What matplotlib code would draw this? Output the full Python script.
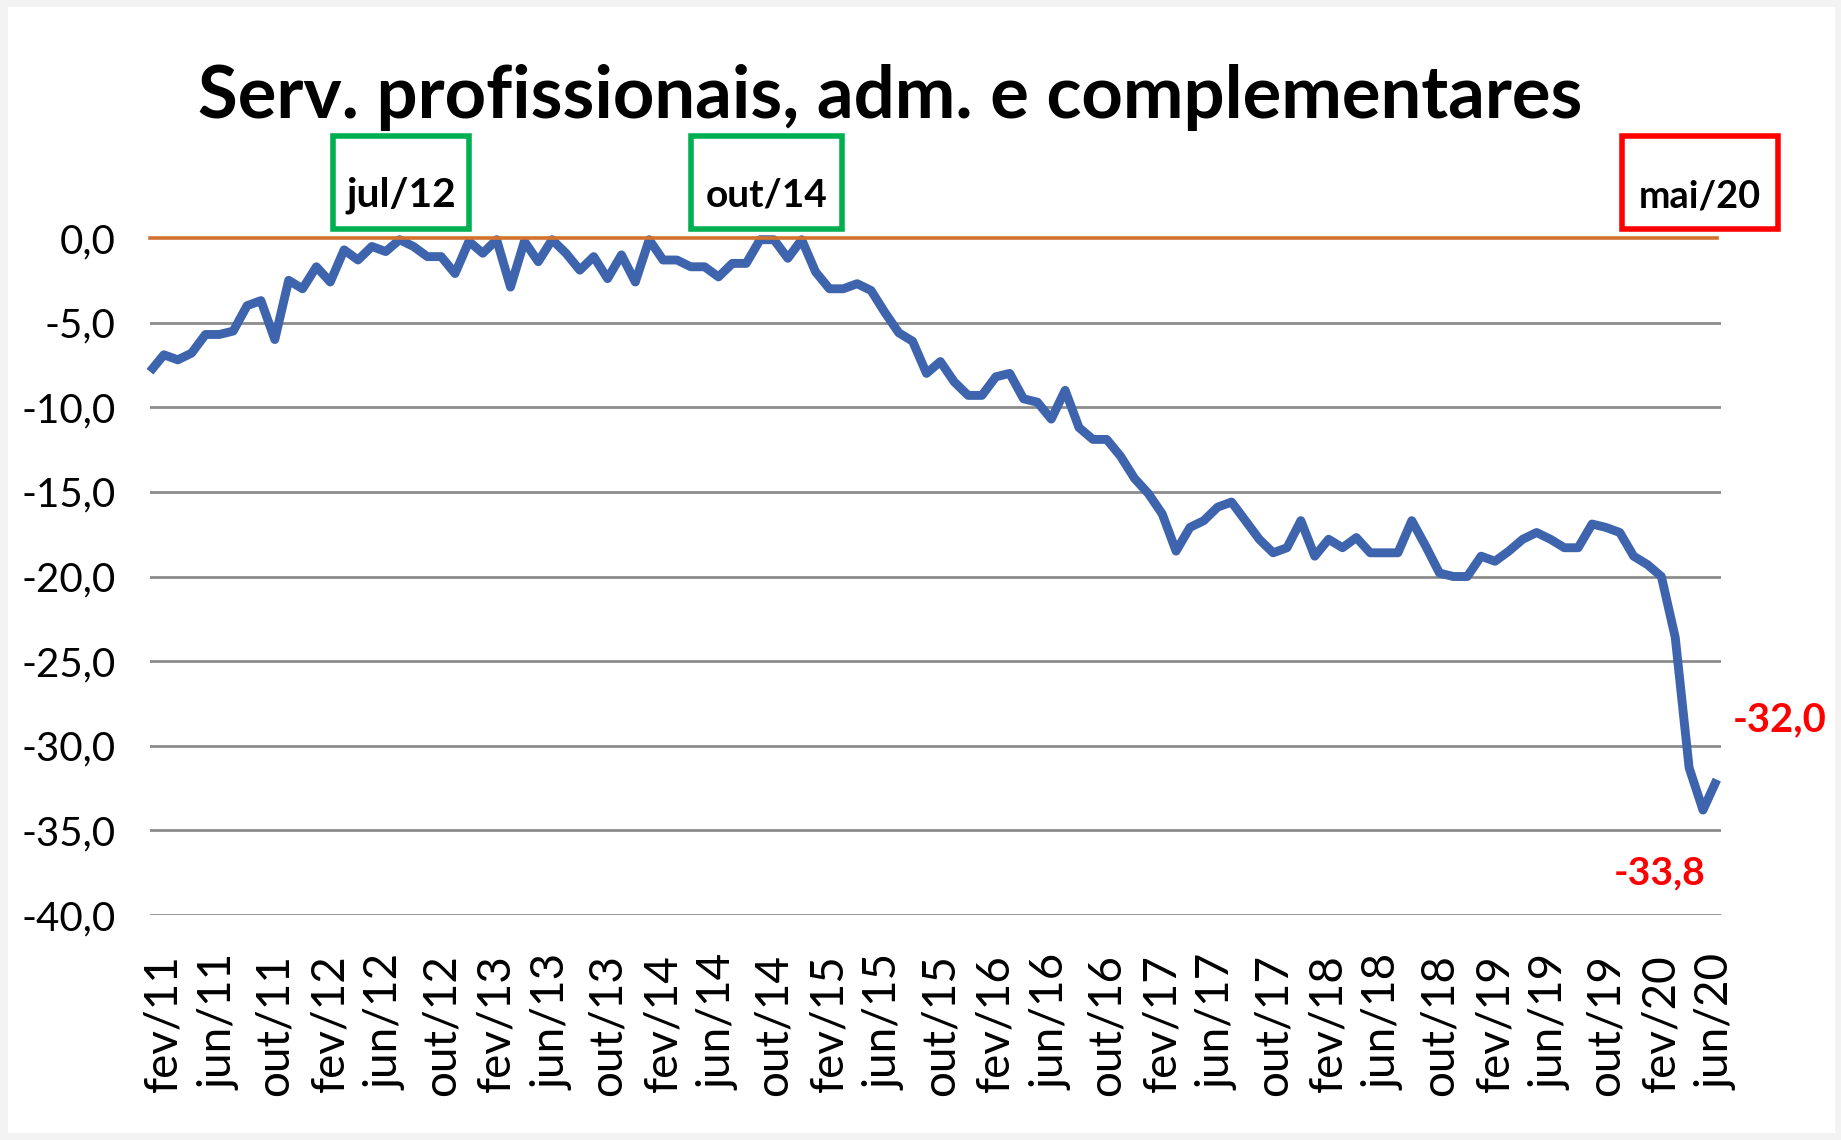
import matplotlib
matplotlib.use("Agg")
import matplotlib.pyplot as plt
from matplotlib import font_manager as fm
from matplotlib.patches import Rectangle
import matplotlib.transforms as mtransforms

# ---------------- data ----------------
month_names = ['jan', 'fev', 'mar', 'abr', 'mai', 'jun', 'jul', 'ago', 'set', 'out', 'nov', 'dez']
years = list(range(11, 21))
periods = [f'{m}/{y}' for y in years for m in month_names][:114]   # jan/11 .. jun/20

values = [
    -7.9, -6.9, -7.2, -6.8, -5.7, -5.7, -5.5, -4.0, -3.7, -6.0, -2.5, -3.0,   # 2011
    -1.7, -2.6, -0.7, -1.3, -0.5, -0.8, -0.1, -0.5, -1.1, -1.1, -2.1, -0.2,   # 2012
    -0.9, -0.1, -2.9, -0.2, -1.4, -0.1, -0.9, -1.9, -1.1, -2.4, -1.0, -2.6,   # 2013
    -0.1, -1.3, -1.3, -1.7, -1.7, -2.3, -1.5, -1.5, -0.1, -0.1, -1.2, -0.1,   # 2014
    -2.0, -3.0, -3.0, -2.7, -3.1, -4.4, -5.6, -6.1, -8.0, -7.3, -8.5, -9.3,   # 2015
    -9.3, -8.2, -8.0, -9.5, -9.7, -10.7, -9.0, -11.2, -11.9, -11.9, -12.9, -14.2,  # 2016
    -15.1, -16.3, -18.5, -17.1, -16.7, -15.9, -15.6, -16.7, -17.8, -18.6, -18.3, -16.7,  # 2017
    -18.8, -17.8, -18.3, -17.7, -18.6, -18.6, -18.6, -16.7, -18.2, -19.8, -20.0, -20.0,  # 2018
    -18.8, -19.1, -18.5, -17.8, -17.4, -17.8, -18.3, -18.3, -16.9, -17.1, -17.4, -18.8,  # 2019
    -19.3, -20.0, -23.6, -31.3, -33.8, -32.0,                                          # 2020
]
reference = [0.0] * len(values)

tick_positions = list(range(1, len(periods), 4))        # fev/11, jun/11, out/11 ...
tick_labels = [periods[i] for i in tick_positions]
y_ticks = [0, -5, -10, -15, -20, -25, -30, -35, -40]
y_tick_labels = [f'{v:.1f}'.replace('.', ',') for v in y_ticks]

title = 'Serv. profissionais, adm. e complementares'
highlights = ['jul/12', 'out/14', 'mai/20']
highlight_colors = ['#00B050', '#00B050', '#FF0000']
low_label = 'mai/20'
last_label = 'jun/20'

# ---------------- fonts ----------------
names = {f.name for f in fm.fontManager.ttflist}
regular_font = 'Lato' if 'Lato' in names else 'DejaVu Sans'
bold_font = 'Liberation Sans Narrow' if 'Liberation Sans Narrow' in names else regular_font

# ---------------- figure ----------------
W, H = 1841, 1140
fig = plt.figure(figsize=(W / 100, H / 100), dpi=100, facecolor='#F3F3F3')
fig.patches.append(Rectangle((8 / W, 7 / H), (1835 - 8) / W, (1133 - 7) / H,
                             transform=fig.transFigure, facecolor='white',
                             edgecolor='none', zorder=-5))

ax_left, ax_right, ax_top, ax_bottom = 150, 1721, 238, 915
ax = fig.add_axes([ax_left / W, 1 - ax_bottom / H, (ax_right - ax_left) / W,
                   (ax_bottom - ax_top) / H])
ax.set_facecolor('none')
ax.set_zorder(2)

x = list(range(len(values)))
ax.set_xlim(0, 113.3)
ax.set_ylim(-40, 0)

for v in y_ticks[1:]:
    ax.axhline(v, color='#8C8C8C', lw=2.0, zorder=1)
ax.plot(x, values, color='#3D64AD', lw=6.4, solid_joinstyle='round',
        solid_capstyle='butt', zorder=3, clip_on=False)
ax.plot(x, reference, color='#D2722E', lw=2.6, zorder=4, clip_on=False)

for s in ax.spines.values():
    s.set_visible(False)

ax.set_yticks(y_ticks)
ax.set_yticklabels(y_tick_labels, fontfamily=regular_font, fontsize=29)
ax.set_xticks(tick_positions)
ax.set_xticklabels(tick_labels, rotation=90, fontfamily=regular_font, fontsize=33,
                   va='top', ha='center')
ax.tick_params(axis='y', length=0, pad=25)
ax.tick_params(axis='x', length=0, pad=28)

renderer = fig.canvas.get_renderer()


def fit_width(t, target_px):
    w = t.get_window_extent(renderer).width
    t.set_fontsize(t.get_fontsize() * target_px / w)


# title
t = fig.text(890 / W, 1 - 118 / H, title, ha='center', va='baseline',
             fontfamily=bold_font, fontweight='bold', fontsize=56, color='black', zorder=5)
fit_width(t, 1386)

# highlighted months
box_edges = {'jul/12': (333, 469), 'out/14': (691, 842), 'mai/20': (1622, 1778)}
blend = mtransforms.blended_transform_factory(ax.transData, ax.transAxes)
ppm = (ax_right - ax_left) / 113.3
box_top = 1 + (ax_top - 136) / (ax_bottom - ax_top)
box_bot = 1 + (ax_top - 229) / (ax_bottom - ax_top)
base_y = 1 + (ax_top - 207) / (ax_bottom - ax_top)
for lab, col in zip(highlights, highlight_colors):
    l_px, r_px = box_edges[lab]
    x0 = (l_px - ax_left) / ppm
    x1 = (r_px - ax_left) / ppm
    ax.add_patch(Rectangle((x0, box_bot), x1 - x0, box_top - box_bot, transform=blend,
                           fill=False, edgecolor=col, lw=4.0, clip_on=False, zorder=5))
    bt = ax.text((x0 + x1) / 2, base_y, lab, transform=blend, ha='center', va='baseline',
                 fontfamily=bold_font, fontweight='bold', fontsize=34, color='black',
                 clip_on=False)
    fit_width(bt, 110 if lab == 'jul/12' else 122)

# value labels
i_low = periods.index(low_label)
i_last = periods.index(last_label)
a1 = ax.annotate(f'{values[i_last]:.1f}'.replace('.', ','), (i_last, values[i_last]),
                 xytext=(45, 43), textcoords='offset points', ha='center', va='center',
                 fontfamily=bold_font, fontweight='bold', fontsize=32, color='#FF0000',
                 annotation_clip=False)
fit_width(a1, 94)
a2 = ax.annotate(f'{values[i_low]:.1f}'.replace('.', ','), (i_low, values[i_low]),
                 xytext=(-31, -45), textcoords='offset points', ha='center', va='center',
                 fontfamily=bold_font, fontweight='bold', fontsize=32, color='#FF0000',
                 annotation_clip=False)
fit_width(a2, 92)

fig.savefig('out.png', dpi=100, facecolor=fig.get_facecolor())
